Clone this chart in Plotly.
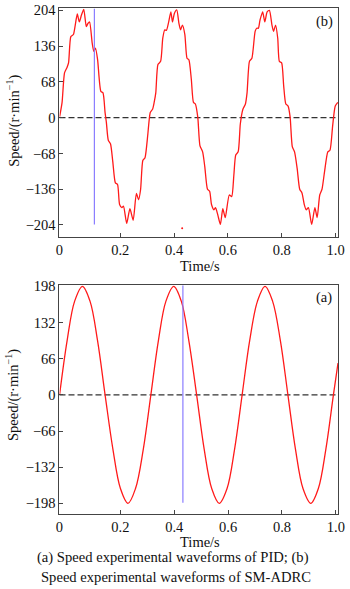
import plotly.graph_objects as go

# ---------------- data ----------------
# (b) SM-ADRC experimental speed waveform (top panel)
time_b = [-0.025, -0.016, -0.007, 0.002, 0.008, 0.0165, 0.026, 0.032, 0.0405, 0.048,
          0.056, 0.0645, 0.074, 0.080, 0.086, 0.096, 0.102, 0.108, 0.116, 0.128,
          0.136, 0.1436, 0.1485, 0.1556, 0.164, 0.1724, 0.182, 0.190, 0.1976, 0.206,
          0.212, 0.224, 0.236, 0.248, 0.260, 0.268, 0.2755, 0.284, 0.292, 0.302,
          0.3115, 0.320, 0.326, 0.332, 0.340, 0.350, 0.358, 0.3655, 0.3715, 0.380,
          0.388, 0.394, 0.401, 0.410, 0.418, 0.424, 0.431, 0.440, 0.448, 0.455,
          0.464, 0.472, 0.479, 0.488, 0.496, 0.506, 0.514, 0.524, 0.532, 0.539,
          0.548, 0.554, 0.562, 0.572, 0.581, 0.590, 0.605, 0.614, 0.622, 0.629,
          0.638, 0.646, 0.6556, 0.665, 0.671, 0.680, 0.689, 0.701, 0.707, 0.713,
          0.719, 0.729, 0.737, 0.7456, 0.754, 0.7635, 0.7695, 0.777, 0.785, 0.791,
          0.7995, 0.807, 0.815, 0.8235, 0.831, 0.839, 0.8475, 0.857, 0.8666, 0.875,
          0.8835, 0.8906, 0.899, 0.911, 0.923, 0.9314, 0.941, 0.9494, 0.959, 0.971,
          0.979, 0.989, 0.9986, 1.008]
speed_b = [2, 29, 85, 95, 104, 154, 158, 173, 197, 182,
           195, 206, 173, 179, 182, 141, 126, 132, 110, 50,
           47, 10, -9, -43, -50, -84, -124, -127, -165, -171,
           -168, -201, -173, -195, -144, -156, -137, -81, -76, -34,
           10, 16, 29, 47, 101, 107, 151, 167, 166, 182,
           201, 182, 198, 205, 179, 167, 176, 158, 113, 110,
           73, 29, 26, 1, -53, -65, -93, -136, -140, -165,
           -175, -171, -184, -203, -173, -190, -147, -150, -109, -71,
           -65, -12, 16, 26, 47, 107, 113, 164, 170, 170,
           185, 201, 182, 201, 204, 176, 164, 176, 151, 107,
           104, 61, 26, 22, 1, -55, -65, -96, -136, -143,
           -165, -175, -171, -203, -171, -190, -147, -136, -102, -65,
           -62, -15, 22, 29]

# (a) PID experimental speed waveform (bottom panel)
time_a = [-0.026, 0.002, 0.030, 0.059, 0.087, 0.115, 0.143, 0.172, 0.200, 0.228,
          0.256, 0.285, 0.313, 0.341, 0.369, 0.398, 0.426, 0.454, 0.483, 0.511,
          0.539, 0.567, 0.596, 0.624, 0.652, 0.680, 0.709, 0.737, 0.765, 0.794,
          0.822, 0.850, 0.878, 0.907, 0.935, 0.963, 0.991, 1.008]
speed_a = [0, 99, 171, 198, 171, 99, 0, -99, -171, -198,
           -171, -99, 0, 99, 171, 198, 171, 99, 0, -99,
           -171, -198, -171, -99, 0, 99, 171, 198, 171, 99,
           0, -99, -171, -198, -171, -99, 0, 58]

# cursor (blue marker lines) and stray dot
cursor_b_t, cursor_b_v = [0.104, 0.104], [207.5, -203]
cursor_a_t, cursor_a_v = [0.432, 0.432], [199.8, -197]
dot_b_t, dot_b_v = [0.430], [-210]

x_tick_vals_b = [-0.0256, 0.2, 0.4, 0.6, 0.8, 1.0]
x_tick_vals_a = [-0.0263, 0.2, 0.4, 0.6, 0.8, 1.0]
x_tick_text = ["0", "0.2", "0.4", "0.6", "0.8", "1.0"]
y_ticks_b = [-204, -136, -68, 0, 68, 136, 204]
y_ticks_a = [-198, -132, -66, 0, 66, 132, 198]

# ---------------- figure ----------------
W, H = 350, 589
FONT = "Liberation Serif"
FS = 14.5
RED = "#ff1a1a"
BLUE = "#8a7dff"
AX = "#444444"

fig = go.Figure()

fig.add_trace(go.Scatter(x=time_b, y=speed_b, mode="lines",
                         line=dict(color=RED, width=1.3, shape="spline", smoothing=0.6),
                         xaxis="x", yaxis="y", showlegend=False))
fig.add_trace(go.Scatter(x=cursor_b_t, y=cursor_b_v, mode="lines",
                         line=dict(color=BLUE, width=1.2), xaxis="x", yaxis="y", showlegend=False))
fig.add_trace(go.Scatter(x=dot_b_t, y=dot_b_v, mode="markers",
                         marker=dict(color=RED, size=2), xaxis="x", yaxis="y", showlegend=False))

fig.add_trace(go.Scatter(x=time_a, y=speed_a, mode="lines",
                         line=dict(color=RED, width=1.3, shape="spline", smoothing=1.0),
                         xaxis="x2", yaxis="y2", showlegend=False))
fig.add_trace(go.Scatter(x=cursor_a_t, y=cursor_a_v, mode="lines",
                         line=dict(color=BLUE, width=1.2), xaxis="x2", yaxis="y2", showlegend=False))

# zero reference lines
fig.add_shape(type="line", xref="x domain", yref="y", x0=0, x1=1, y0=0, y1=0,
              line=dict(color="#333333", width=1.2, dash="6px,3px"), layer="below")
fig.add_shape(type="line", xref="x2 domain", yref="y2", x0=0, x1=1, y0=0, y1=0,
              line=dict(color="#333333", width=1.2, dash="6px,3px"), layer="below")

x0d, x1d = 57.3 / W, 345 / W
axis_common = dict(showline=True, linecolor=AX, linewidth=1, mirror=True,
                   ticks="inside", ticklen=4, tickcolor=AX, tickwidth=1,
                   showgrid=False, zeroline=False, ticklabeloverflow="allow",
                   tickfont=dict(family=FONT, size=FS, color="#111111"))

fig.update_layout(
    width=W, height=H, margin=dict(l=0, r=0, t=0, b=0),
    paper_bgcolor="white", plot_bgcolor="white",
    font=dict(family=FONT, size=FS, color="#111111"),
    xaxis=dict(domain=[x0d, x1d], range=[-0.0256, 1.0094], anchor="y",
               tickmode="array", tickvals=x_tick_vals_b, ticktext=x_tick_text, **axis_common),
    yaxis=dict(domain=[1 - 232.7 / H, 1 - 1.5 / H], range=[-226.7, 207.5], anchor="x",
               tickmode="array", tickvals=y_ticks_b, **axis_common),
    xaxis2=dict(domain=[x0d, x1d], range=[-0.0263, 1.0086], anchor="y2",
                tickmode="array", tickvals=x_tick_vals_a, ticktext=x_tick_text, **axis_common),
    yaxis2=dict(domain=[1 - 513 / H, 1 - 281.7 / H], range=[-217.3, 199.8], anchor="x2",
                tickmode="array", tickvals=y_ticks_a, **axis_common),
)

def ann(text, px, py, size=FS, angle=0):
    fig.add_annotation(text=text, x=px / W, y=1 - py / H, xref="paper", yref="paper",
                       showarrow=False, xanchor="center", yanchor="middle",
                       textangle=angle, font=dict(family=FONT, size=size, color="#111111"))

ann("Time/s", 202, 261.7)
ann("Time/s", 202, 541)
ann("Speed/(r·min<sup>−1</sup>)", 9.5, 115, angle=-90)
ann("Speed/(r·min<sup>−1</sup>)", 9.5, 392.5, angle=-90)
ann("(b)", 330.7, 14.3)
ann("(a)", 330.7, 294.3)
ann("(a) Speed experimental waveforms of PID; (b)", 174.2, 557.5, size=14.6)
ann("Speed experimental waveforms of SM-ADRC", 177.5, 577, size=14.6)

fig.write_html("out.html")
